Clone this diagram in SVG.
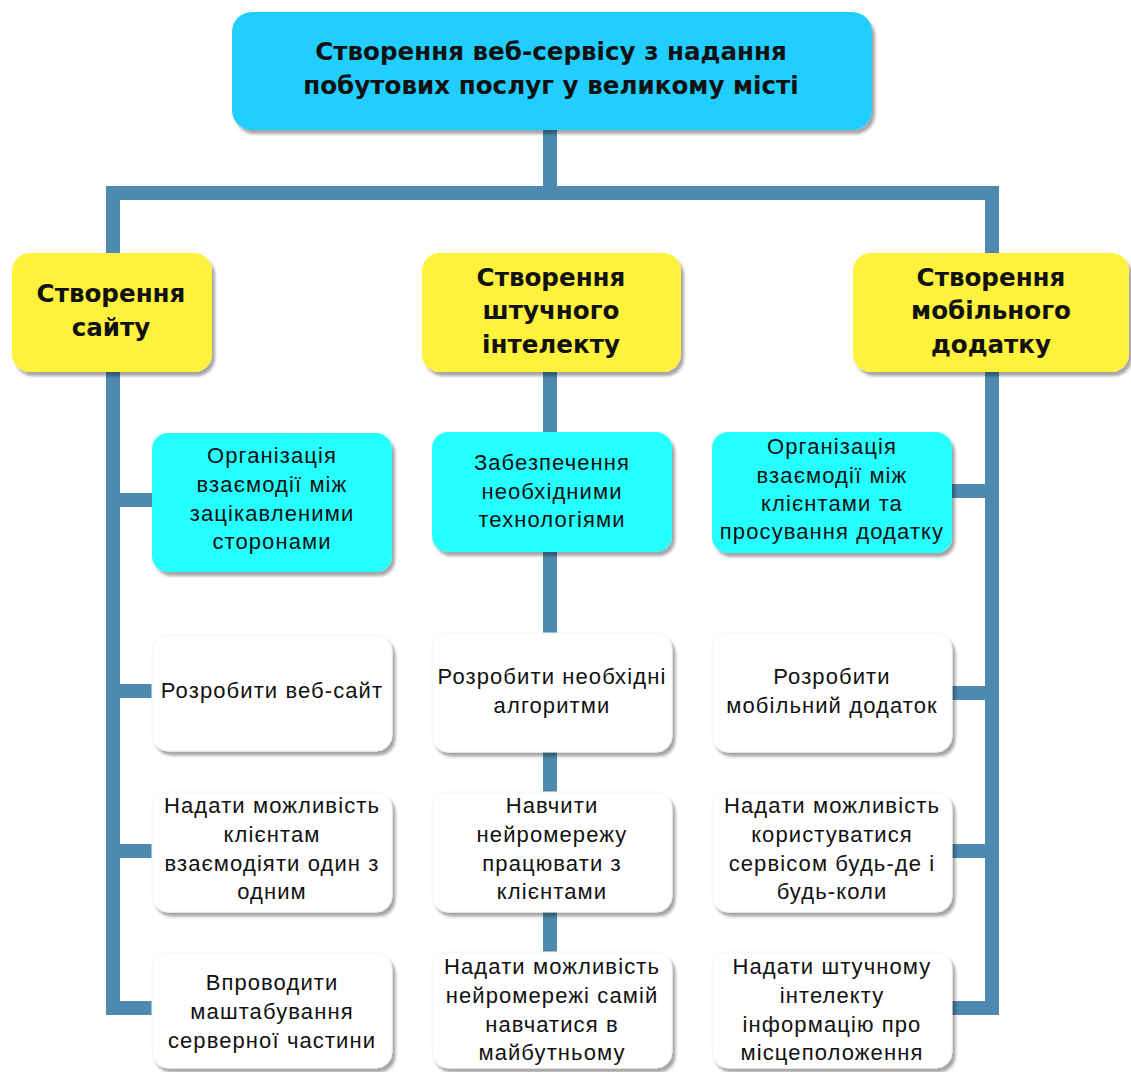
<svg xmlns="http://www.w3.org/2000/svg" width="1131" height="1072" viewBox="0 0 1131 1072">
<defs>
<filter id="sh" x="-10%" y="-10%" width="125%" height="130%">
<feDropShadow dx="3" dy="4" stdDeviation="1.8" flood-color="#000" flood-opacity="0.35"/>
</filter>
<style>
.top{fill:#22CDFF;filter:url(#sh)}
.yel{fill:#FFF23C;filter:url(#sh)}
.cy{fill:#26FFFF;filter:url(#sh)}
.wh{fill:#FFFFFF;stroke:#F2F2F2;stroke-width:1;filter:url(#sh)}
.tb{font-family:"DejaVu Sans","Liberation Sans",Arial,sans-serif;font-weight:bold;font-size:24.6px;fill:#111;text-anchor:middle}
.tr{font-family:"Liberation Sans",Arial,sans-serif;font-size:22px;letter-spacing:1.1px;fill:#111;text-anchor:middle}
.ln{fill:none;stroke:#4E8AAF;stroke-width:14;stroke-linejoin:miter;stroke-linecap:butt}
</style>
</defs>
<rect width="1131" height="1072" fill="#FFFFFF"/>
<g id="connectors">
<path class="ln" d="M550,130 V193"/>
<path class="ln" d="M113,255 V193 H992 V255"/>
<path class="ln" d="M113,372 V1008 H154"/>
<path class="ln" d="M113,500 H154"/>
<path class="ln" d="M113,691 H154"/>
<path class="ln" d="M113,851 H154"/>
<path class="ln" d="M550,372 V434"/>
<path class="ln" d="M550,552 V635"/>
<path class="ln" d="M550,752 V794"/>
<path class="ln" d="M550,912 V954"/>
<path class="ln" d="M992,372 V1008 H950"/>
<path class="ln" d="M992,491 H950"/>
<path class="ln" d="M992,693 H950"/>
<path class="ln" d="M992,851 H950"/>
</g>
<g id="root">
<rect class="top" x="232" y="12" width="640" height="118" rx="20"/>
<text class="tb" x="551" y="60">Створення веб-сервісу з надання</text>
<text class="tb" x="551" y="94">побутових послуг у великому місті</text>
</g>
<g id="site">
<rect class="yel" x="12" y="253" width="200" height="119" rx="18"/>
<text class="tb" x="111" y="302">Створення</text>
<text class="tb" x="111" y="336">сайту</text>
</g>
<g id="ai">
<rect class="yel" x="422" y="253" width="259" height="119" rx="18"/>
<text class="tb" x="551" y="286">Створення</text>
<text class="tb" x="551" y="319">штучного</text>
<text class="tb" x="551" y="353">інтелекту</text>
</g>
<g id="mobile">
<rect class="yel" x="853" y="253" width="276" height="119" rx="18"/>
<text class="tb" x="991" y="286">Створення</text>
<text class="tb" x="991" y="319">мобільного</text>
<text class="tb" x="991" y="353">додатку</text>
</g>
<g id="site-org">
<rect class="cy" x="152" y="433" width="240" height="139" rx="16"/>
<text class="tr" x="272" y="463">Організація</text>
<text class="tr" x="272" y="492">взаємодії між</text>
<text class="tr" x="272" y="521">зацікавленими</text>
<text class="tr" x="272" y="549">сторонами</text>
</g>
<g id="site-1">
<rect class="wh" x="152" y="635" width="240" height="116" rx="16"/>
<text class="tr" x="272" y="698">Розробити веб-сайт</text>
</g>
<g id="site-2">
<rect class="wh" x="152" y="792" width="240" height="120" rx="16"/>
<text class="tr" x="272" y="813">Надати можливість</text>
<text class="tr" x="272" y="842">клієнтам</text>
<text class="tr" x="272" y="871">взаємодіяти один з</text>
<text class="tr" x="272" y="899">одним</text>
</g>
<g id="site-3">
<rect class="wh" x="152" y="953" width="240" height="115" rx="16"/>
<text class="tr" x="272" y="990">Впроводити</text>
<text class="tr" x="272" y="1019">маштабування</text>
<text class="tr" x="272" y="1048">серверної частини</text>
</g>
<g id="ai-org">
<rect class="cy" x="432" y="432" width="240" height="120" rx="16"/>
<text class="tr" x="552" y="470">Забезпечення</text>
<text class="tr" x="552" y="499">необхідними</text>
<text class="tr" x="552" y="527">технологіями</text>
</g>
<g id="ai-1">
<rect class="wh" x="432" y="633" width="240" height="119" rx="16"/>
<text class="tr" x="552" y="684">Розробити необхідні</text>
<text class="tr" x="552" y="713">алгоритми</text>
</g>
<g id="ai-2">
<rect class="wh" x="432" y="792" width="240" height="120" rx="16"/>
<text class="tr" x="552" y="813">Навчити</text>
<text class="tr" x="552" y="842">нейромережу</text>
<text class="tr" x="552" y="871">працювати з</text>
<text class="tr" x="552" y="899">клієнтами</text>
</g>
<g id="ai-3">
<rect class="wh" x="432" y="952" width="240" height="116" rx="16"/>
<text class="tr" x="552" y="974">Надати можливість</text>
<text class="tr" x="552" y="1003">нейромережі самій</text>
<text class="tr" x="552" y="1032">навчатися в</text>
<text class="tr" x="552" y="1060">майбутньому</text>
</g>
<g id="mobile-org">
<rect class="cy" x="712" y="432" width="240" height="121" rx="16"/>
<text class="tr" x="832" y="454">Організація</text>
<text class="tr" x="832" y="483">взаємодії між</text>
<text class="tr" x="832" y="511">клієнтами та</text>
<text class="tr" x="832" y="539">просування додатку</text>
</g>
<g id="mobile-1">
<rect class="wh" x="712" y="633" width="240" height="119" rx="16"/>
<text class="tr" x="832" y="684">Розробити</text>
<text class="tr" x="832" y="713">мобільний додаток</text>
</g>
<g id="mobile-2">
<rect class="wh" x="712" y="792" width="240" height="120" rx="16"/>
<text class="tr" x="832" y="813">Надати можливість</text>
<text class="tr" x="832" y="842">користуватися</text>
<text class="tr" x="832" y="871">сервісом будь-де і</text>
<text class="tr" x="832" y="899">будь-коли</text>
</g>
<g id="mobile-3">
<rect class="wh" x="712" y="952" width="240" height="116" rx="16"/>
<text class="tr" x="832" y="974">Надати штучному</text>
<text class="tr" x="832" y="1003">інтелекту</text>
<text class="tr" x="832" y="1032">інформацію про</text>
<text class="tr" x="832" y="1060">місцеположення</text>
</g>
</svg>
